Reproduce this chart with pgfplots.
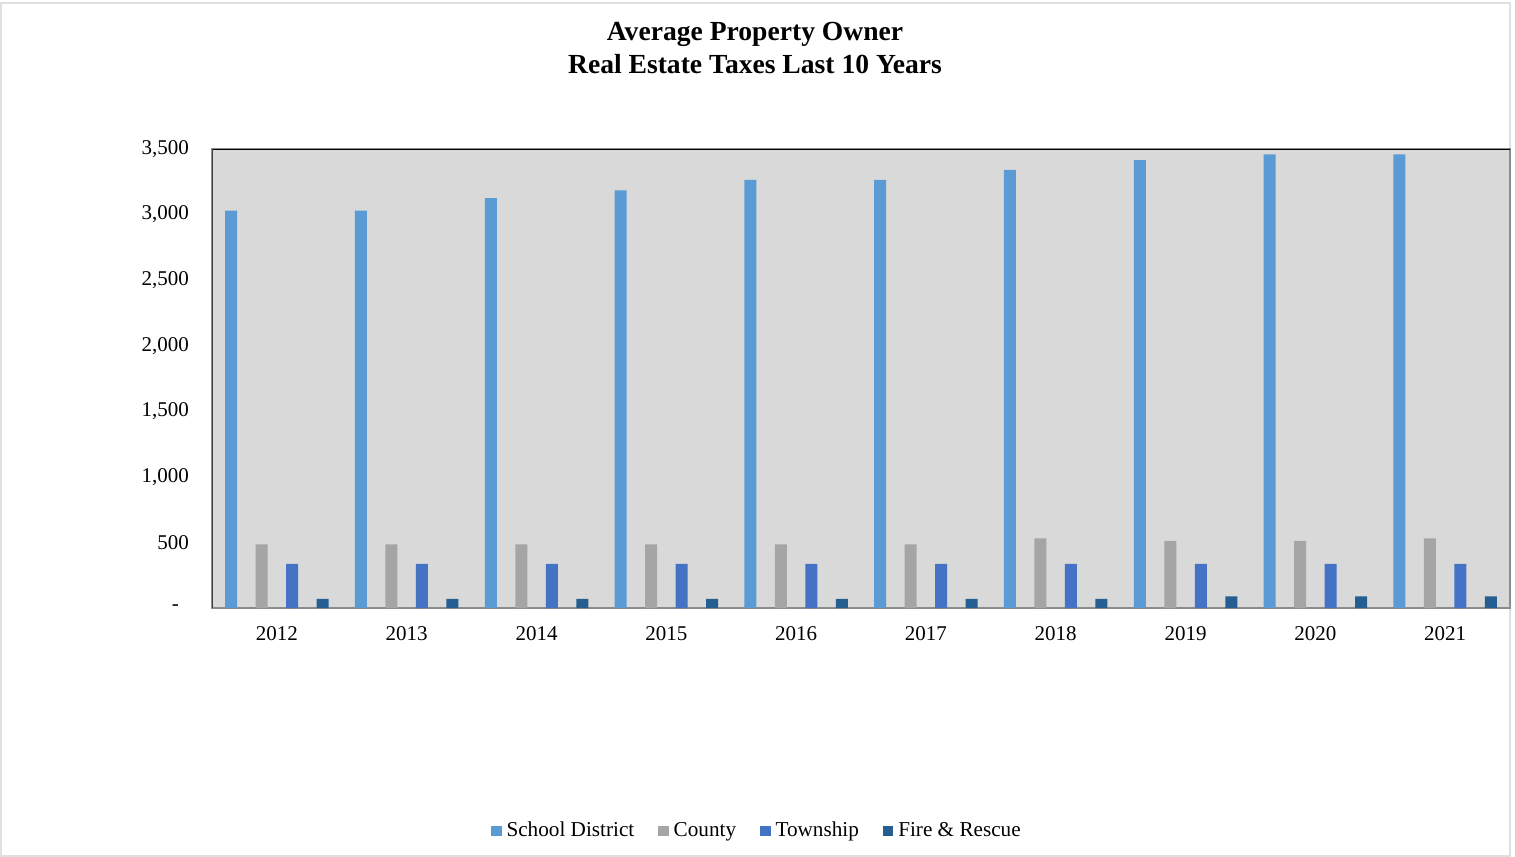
\documentclass[border=0pt]{standalone}
\usepackage{pgfplots}
\pgfplotsset{compat=1.18}
\usepackage{fontspec}
\setmainfont{Liberation Serif}
\definecolor{cSchool}{HTML}{5B9BD5}
\definecolor{cCounty}{HTML}{A5A5A5}
\definecolor{cTown}{HTML}{4472C4}
\definecolor{cFire}{HTML}{255E91}
\definecolor{cBg}{HTML}{D9D9D9}
\begin{document}
\begin{tikzpicture}
\path (0pt,0pt) rectangle (757.5pt,-427.5pt);
\draw[color=black!12, line width=0.6pt] (0.5pt,-1.5pt) rectangle (755pt,-428pt);
\node[font=\bfseries\fontsize{13.8}{16}\selectfont] at (377.5pt,-17pt) {Average Property Owner};
\node[font=\bfseries\fontsize{13.8}{16}\selectfont] at (377.5pt,-32pt) {Real Estate Taxes Last 10 Years};
\begin{axis}[
  at={(106pt,-304pt)}, anchor=south west,
  scale only axis, width=649pt, height=229.5pt,
  ybar=9.25pt, bar width=6pt,
  xmin=-0.5, xmax=9.5, ymin=0, ymax=3500,
  xtick={0,...,9},
  xticklabels={2012,2013,2014,2015,2016,2017,2018,2019,2020,2021},
  ytick={0,500,...,3500},
  yticklabels={{-\rule{5pt}{0pt}},500,{1,000},{1,500},{2,000},{2,500},{3,000},{3,500}},
  major tick length=0pt,
  tick label style={font=\fontsize{10.5}{12}\selectfont},
  yticklabel style={xshift=-8pt},
  xticklabel style={yshift=-5.5pt},
  axis background/.style={fill=cBg},
  axis line style={draw=black!45, line width=0.6pt},
  legend columns=4,
  legend style={at={(0.4206,-0.486)}, anchor=center, draw=none, fill=none,
    font=\fontsize{10.6}{12}\selectfont,
    /tikz/every odd column/.append style={column sep=0.5pt},
    /tikz/every even column/.append style={column sep=10pt}},
  legend image code/.code={\fill[#1] (0pt,-2.6pt) rectangle (5.2pt,2.6pt);},
]
\addplot[fill=cSchool, draw=none] coordinates {(0,3030) (1,3030) (2,3125) (3,3185) (4,3265) (5,3265) (6,3340) (7,3415) (8,3460) (9,3460)};
\addplot[fill=cCounty, draw=none] coordinates {(0,486) (1,486) (2,486) (3,486) (4,486) (5,486) (6,531) (7,511) (8,511) (9,531)};
\addplot[fill=cTown, draw=none] coordinates {(0,336) (1,336) (2,336) (3,336) (4,336) (5,336) (6,336) (7,336) (8,336) (9,336)};
\addplot[fill=cFire, draw=none] coordinates {(0,69) (1,69) (2,69) (3,69) (4,69) (5,69) (6,69) (7,89) (8,89) (9,89)};
\legend{School District, County, Township, Fire \& Rescue}
\draw[black, line width=0.9pt] (rel axis cs:0,1) -- (rel axis cs:1,1);
\draw[black!75, line width=0.6pt] (rel axis cs:0,0) -- (rel axis cs:0,1);
\end{axis}
\end{tikzpicture}
\end{document}
